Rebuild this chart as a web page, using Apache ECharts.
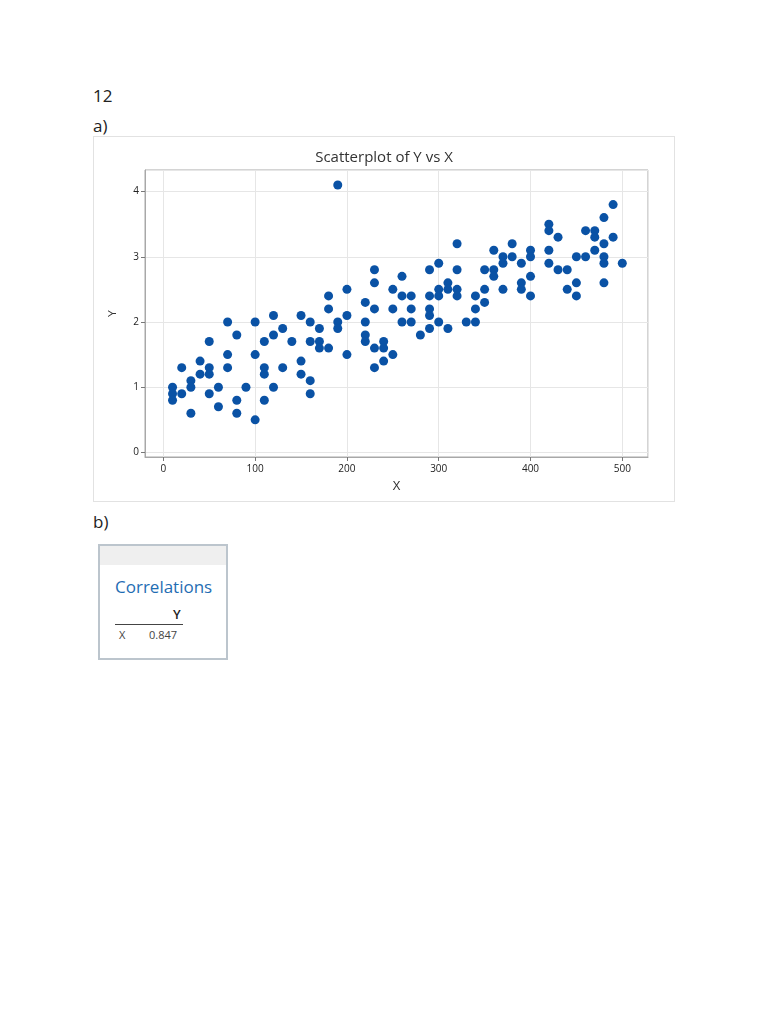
<!DOCTYPE html>
<html>
<head>
    <meta charset="utf-8">
    <title>Scatterplot of Y vs X</title>
    <script src="https://cdn.jsdelivr.net/npm/echarts@6/dist/echarts.min.js"></script>
    <style>
        body { margin: 0; width: 768px; height: 1024px; background: #fff; font-family: 'Open Sans', sans-serif; color: #222; position: relative; }
        .txt { position: absolute; font-size: 17px; line-height: 20px; }
        #scatter { position: absolute; left: 93px; top: 136px; width: 580px; height: 364px; border: 1px solid #e2e2e2; }
        #corr { position: absolute; left: 98px; top: 544px; width: 126px; height: 112px; border: 2px solid #bcc5cd; background: #fff; }
        #corr .head { height: 19px; background: #efefef; }
        #corr .ttl { position: absolute; left: 15px; top: 29px; font-size: 17px; color: #1f6db3; }
        #corr .col { position: absolute; left: 73px; top: 59px; font-size: 13px; font-weight: 600; }
        #corr .rule { position: absolute; left: 15px; top: 78px; width: 68px; border-top: 1px solid #444; }
        #corr .row { position: absolute; left: 19px; top: 81px; font-size: 11px; color: #444; }
        #corr .val { position: absolute; left: 49px; top: 81px; font-size: 11px; color: #444; }
    </style>
</head>

<body>
    <div class="txt" style="left: 93px; top: 86px;">12</div>
    <div class="txt" style="left: 93px; top: 116px;">a)</div>
    <div id="scatter"></div>
    <div class="txt" style="left: 93px; top: 512px;">b)</div>
    <div id="corr">
        <div class="head"></div>
        <div class="ttl">Correlations</div>
        <div class="col">Y</div>
        <div class="rule"></div>
        <div class="row">X</div>
        <div class="val">0.847</div>
    </div>

    <script>
        // values
        var xValues = [
            10, 10, 10, 20, 20, 30, 30, 30, 40, 40,
            50, 50, 50, 50, 60, 60, 70, 70, 70, 80, 80, 80,
            90, 100, 100, 100, 110, 110, 110, 110, 120, 120, 120,
            130, 130, 140, 150, 150, 150, 160, 160, 160, 160,
            170, 170, 170, 180, 180, 180, 190, 190, 190, 200, 200, 200,
            220, 220, 220, 220, 230, 230, 230, 230, 230, 240, 240, 240,
            250, 250, 250, 260, 260, 260, 270, 270, 270, 280,
            290, 290, 290, 290, 290, 300, 300, 300, 300, 310, 310, 310,
            320, 320, 320, 320, 330, 340, 340, 340, 350, 350, 350,
            360, 360, 360, 370, 370, 370, 380, 380, 390, 390, 390,
            400, 400, 400, 400, 420, 420, 420, 420, 430, 430, 440, 440,
            450, 450, 450, 460, 460, 470, 470, 470,
            480, 480, 480, 480, 480, 490, 490, 500
        ];
        var yValues = [
            1.0, 0.9, 0.8, 1.3, 0.9, 1.1, 1.0, 0.6, 1.4, 1.2,
            1.7, 1.3, 1.2, 0.9, 1.0, 0.7, 2.0, 1.5, 1.3, 1.8, 0.8, 0.6,
            1.0, 2.0, 1.5, 0.5, 1.7, 1.3, 1.2, 0.8, 2.1, 1.8, 1.0,
            1.9, 1.3, 1.7, 2.1, 1.4, 1.2, 2.0, 1.7, 1.1, 0.9,
            1.9, 1.7, 1.6, 2.4, 2.2, 1.6, 4.1, 2.0, 1.9, 2.5, 2.1, 1.5,
            2.3, 2.0, 1.8, 1.7, 2.8, 2.6, 2.2, 1.6, 1.3, 1.7, 1.6, 1.4,
            2.5, 2.2, 1.5, 2.7, 2.4, 2.0, 2.4, 2.2, 2.0, 1.8,
            2.8, 2.4, 2.2, 2.1, 1.9, 2.9, 2.5, 2.4, 2.0, 2.6, 2.5, 1.9,
            3.2, 2.8, 2.5, 2.4, 2.0, 2.4, 2.2, 2.0, 2.8, 2.5, 2.3,
            3.1, 2.8, 2.7, 3.0, 2.9, 2.5, 3.2, 3.0, 2.9, 2.6, 2.5,
            3.1, 3.0, 2.7, 2.4, 3.5, 3.4, 3.1, 2.9, 3.3, 2.8, 2.8, 2.5,
            3.0, 2.6, 2.4, 3.4, 3.0, 3.4, 3.3, 3.1,
            3.6, 3.2, 3.0, 2.9, 2.6, 3.8, 3.3, 2.9
        ];

        var points = xValues.map(function (x, i) { return [x, yValues[i]]; });

        var chart = echarts.init(document.getElementById('scatter'));

        var axisText = { color: '#222', fontSize: 10, fontWeight: 500, fontFamily: 'Open Sans' };

        var option = {
            animation: false,
            title: {
                text: 'Scatterplot of Y vs X',
                left: 'center',
                top: 8,
                textStyle: { fontFamily: 'Open Sans', fontSize: 15, fontWeight: 'normal', color: '#333' }
            },
            grid: {
                left: 51, top: 33, right: 26, bottom: 44,
                show: true, borderColor: '#a8a8a8', borderWidth: 1
            },
            xAxis: {
                type: 'value',
                min: -20,
                max: 528,
                name: 'X',
                nameLocation: 'middle',
                nameGap: 24,
                nameTextStyle: { color: '#333', fontSize: 12 },
                axisLine: { onZero: false, lineStyle: { color: '#a8a8a8' } },
                axisTick: { show: true, length: 4, lineStyle: { color: '#777' } },
                axisLabel: Object.assign({ showMinLabel: false, showMaxLabel: false, margin: 7 }, axisText),
                splitLine: { lineStyle: { color: '#e6e6e6' } }
            },
            yAxis: {
                type: 'value',
                min: -0.07,
                max: 4.33,
                name: 'Y',
                nameLocation: 'middle',
                nameGap: 27,
                nameRotate: 90,
                nameTextStyle: { color: '#333', fontSize: 11 },
                axisLine: { show: true, onZero: false, lineStyle: { color: '#a8a8a8' } },
                axisTick: { show: true, length: 4, lineStyle: { color: '#777' } },
                axisLabel: Object.assign({ showMinLabel: false, showMaxLabel: false, margin: 6 }, axisText),
                splitLine: { lineStyle: { color: '#e6e6e6' } }
            },
            series: [{
                type: 'scatter',
                symbol: 'circle',
                symbolSize: 9,
                itemStyle: { color: '#0a52a5', opacity: 1 },
                data: points
            }]
        };

        chart.setOption(option);
    </script>
</body>

</html>
